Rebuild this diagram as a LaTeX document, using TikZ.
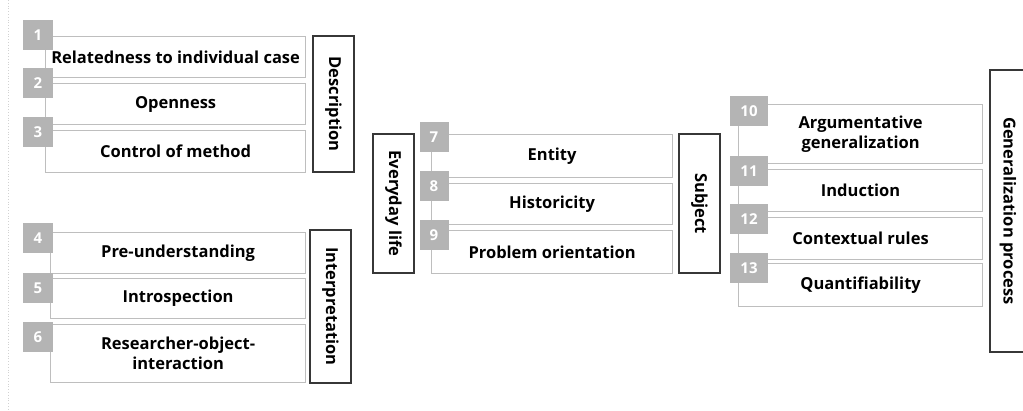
\documentclass[tikz,border=0pt]{standalone}
\usepackage{fontspec}
\setmainfont{Open Sans}
\usetikzlibrary{positioning}
\definecolor{boxgray}{RGB}{190,190,190}
\definecolor{numgray}{RGB}{180,180,180}
\definecolor{framegray}{RGB}{55,55,55}

\begin{document}
\begin{tikzpicture}[x=1pt, y=-1pt,
    item/.style={draw=boxgray, line width=1.2pt, anchor=north west, inner sep=0pt, align=center, font=\bfseries\fontsize{16.5}{20}\selectfont},
    num/.style={fill=numgray, inner sep=0pt, minimum width=30pt, minimum height=30pt, text=white, font=\bfseries\fontsize{15}{17}\selectfont},
    cat/.style={draw=framegray, line width=1.3pt, inner sep=0pt, rotate=-90, minimum height=41pt, font=\bfseries\fontsize{16.5}{20}\selectfont}
]
    \useasboundingbox (0,0) rectangle (1023,410);
    \draw[gray!35, dotted, line width=0.8pt] (8,0) -- (8,410);

    % Description
    \node[item, minimum width=260pt, minimum height=41pt] (b1) at (45,36) {Relatedness to individual case};
    \node[item, minimum width=260pt, minimum height=41pt] (b2) at (45,83) {Openness};
    \node[item, minimum width=260pt, minimum height=42pt] (b3) at (45,130) {Control of method};
    \node[num] (n1) at (38,35) {1};
    \node[num] (n2) at (38,83) {2};
    \node[num] (n3) at (38,132) {3};
    \node[cat, minimum width=136pt] (descr) at (333.5,104) {Description};

    % Interpretation
    \node[item, minimum width=255pt, minimum height=41pt] (b4) at (50,232) {Pre-understanding};
    \node[item, minimum width=255pt, minimum height=40pt] (b5) at (50,278) {Introspection};
    \node[item, minimum width=255pt, minimum height=58pt] (b6) at (50,324) {Researcher-object-\\interaction};
    \node[num] (n4) at (38,238) {4};
    \node[num] (n5) at (38,288) {5};
    \node[num] (n6) at (38,337) {6};
    \node[cat, minimum width=153pt] (interp) at (330.5,306.5) {Interpretation};

    % Everyday life / Subject
    \node[cat, minimum width=139pt] (life) at (393.5,203.5) {Everyday life};
    \node[item, minimum width=241pt, minimum height=43pt] (b7) at (431,134) {Entity};
    \node[item, minimum width=241pt, minimum height=41pt] (b8) at (431,183) {Historicity};
    \node[item, minimum width=241pt, minimum height=43pt] (b9) at (431,230) {Problem orientation};
    \node[num, minimum width=29pt] (n7) at (434,137) {7};
    \node[num, minimum width=29pt] (n8) at (434,186) {8};
    \node[num, minimum width=29pt] (n9) at (434,235) {9};
    \node[cat, minimum width=139pt] (subj) at (699.5,203.5) {Subject};

    % Generalization process
    \node[item, minimum width=244pt, minimum height=59pt] (b10) at (738,104) {Argumentative\\generalization};
    \node[item, minimum width=244pt, minimum height=42pt] (b11) at (738,169) {Induction};
    \node[item, minimum width=244pt, minimum height=42pt] (b12) at (738,217) {Contextual rules};
    \node[item, minimum width=244pt, minimum height=43pt] (b13) at (738,263) {Quantifiability};
    \node[num, minimum width=38pt] (n10) at (749,111) {10};
    \node[num, minimum width=38pt] (n11) at (749,171) {11};
    \node[num, minimum width=38pt] (n12) at (749,219) {12};
    \node[num, minimum width=38pt] (n13) at (749,268) {13};
    \node[cat, minimum width=282pt, minimum height=36pt] (gen) at (1008,211) {Generalization process};
\end{tikzpicture}
\end{document}
